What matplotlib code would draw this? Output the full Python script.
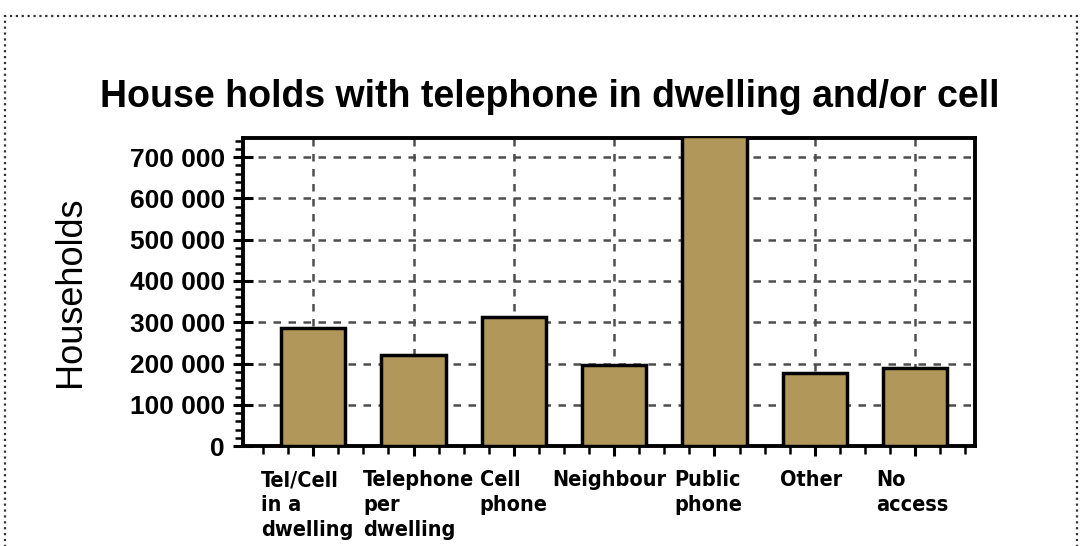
import matplotlib
matplotlib.use('Agg')
import matplotlib.pyplot as plt
from matplotlib.ticker import MultipleLocator, FuncFormatter
from matplotlib.patches import Rectangle

# Households by type of telephone access
categories = ['Tel/Cell\nin a\ndwelling', 'Telephone\nper\ndwelling', 'Cell\nphone',
              'Neighbour', 'Public\nphone', 'Other', 'No\naccess']
households = [285000, 220000, 312000, 196000, 750000, 177000, 189000]

# where each multi-line label starts, relative to its bar centre
label_shift = [-0.52, -0.50, -0.34, -0.62, -0.40, -0.35, -0.39]

plt.rcParams['font.family'] = ['Liberation Sans', 'DejaVu Sans']

fig = plt.figure(figsize=(10.8, 5.46), dpi=100)
ax = fig.add_axes([0.225, 0.183, 0.678, 0.564])

x = range(len(categories))
ax.bar(x, households, width=0.64, color='#b1985a', edgecolor='black', linewidth=2.5, zorder=3)

ax.set_xlim(-0.7, 6.6)
ax.set_ylim(0, 746000)

ax.xaxis.set_major_locator(MultipleLocator(1))
ax.xaxis.set_minor_locator(MultipleLocator(0.25))
ax.yaxis.set_major_locator(MultipleLocator(100000))
ax.yaxis.set_minor_locator(MultipleLocator(20000))
ax.yaxis.set_major_formatter(FuncFormatter(lambda v, p: f'{int(v):,}'.replace(',', ' ')))
ax.set_xticklabels([])

ax.tick_params(axis='both', which='major', direction='inout', length=14, width=2.2)
ax.tick_params(axis='both', which='minor', direction='out', length=6, width=1.8)
ax.tick_params(axis='y', which='major', labelsize=19, pad=6)
for lab in ax.get_yticklabels():
    lab.set_fontweight('bold')

for side in ['left', 'right', 'top', 'bottom']:
    ax.spines[side].set_linewidth(2.8)

ax.grid(True, which='major', linestyle=(0, (3, 3)), color='#4d4d4d', linewidth=1.8)
ax.set_axisbelow(True)

ax.set_ylabel('Households', fontsize=26, labelpad=30)
fig.text(0.509, 0.822, 'House holds with telephone in dwelling and/or cell',
         ha='center', va='center', fontsize=27, fontweight='bold')

for i, (name, dx) in enumerate(zip(categories, label_shift)):
    ax.text(i + dx, -0.078, name, transform=ax.get_xaxis_transform(),
            ha='left', va='top', fontsize=15.5, fontweight='bold',
            family='DejaVu Sans', fontstretch='condensed', linespacing=1.32)

# dotted page frame
fig.patches.append(Rectangle((0.005, -0.02), 0.992, 0.99, transform=fig.transFigure,
                             fill=False, linestyle=':', linewidth=1.6, edgecolor='#333333'))

fig.savefig('out.png', dpi=100)
